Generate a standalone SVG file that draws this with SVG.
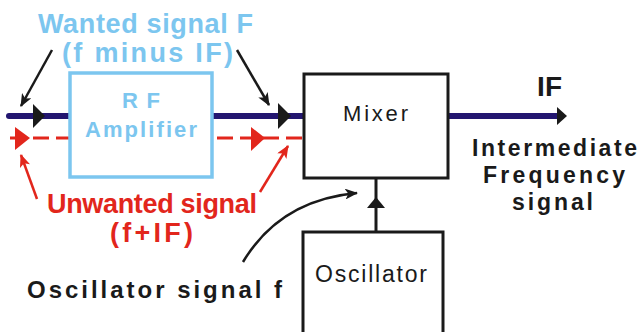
<svg xmlns="http://www.w3.org/2000/svg" width="639" height="332" viewBox="0 0 639 332">
<defs>
<style>
.lbl{font-family:"Liberation Sans",Arial,sans-serif;font-weight:bold}
.node{font-family:"Liberation Sans",Arial,sans-serif}
.blue{fill:#7cc6ef}
.red{fill:#e2261c}
.blk{fill:#1a1a1a}
.navy{stroke:#231670;stroke-width:6;fill:none}
.dash{stroke:#e2261c;stroke-width:3;fill:none;stroke-dasharray:16 7}
.ptr{stroke:#1a1a1a;stroke-width:2.5;fill:none}
.ptrR{stroke:#e2261c;stroke-width:2.5;fill:none}
</style>
<marker id="barbK" viewBox="0 0 12 10" refX="11" refY="5" markerWidth="13" markerHeight="11" markerUnits="userSpaceOnUse" orient="auto">
<path d="M0,0 L12,5 L0,10 L3,5 z" fill="#1a1a1a"/>
</marker>
<marker id="barbR" viewBox="0 0 12 10" refX="11" refY="5" markerWidth="13" markerHeight="11" markerUnits="userSpaceOnUse" orient="auto">
<path d="M0,0 L12,5 L0,10 L3,5 z" fill="#e2261c"/>
</marker>
</defs>
<rect width="639" height="332" fill="#ffffff"/>
<g id="connectors">
<line class="navy" x1="9" y1="116" x2="304" y2="116" stroke-linecap="round"/>
<line class="dash" x1="10" y1="138" x2="308" y2="138"/>
<line class="navy" x1="448" y1="116" x2="558" y2="116"/>
<polygon points="33,104 45,116 33,128" fill="#1a1a1a"/>
<polygon points="278,103 291,116 278,129" fill="#1a1a1a"/>
<polygon points="557,107 567,116 557,125" fill="#1a1a1a"/>
<polygon points="15,127 30,138 15,150" fill="#e2261c"/>
<polygon points="251,127 265,138 251,151" fill="#e2261c"/>
<line x1="376" y1="232" x2="376" y2="178" stroke="#1a1a1a" stroke-width="3"/>
<polygon points="376,197 385,208 367,208" fill="#1a1a1a"/>
<line class="ptr" x1="52" y1="50" x2="21" y2="106" marker-end="url(#barbK)"/>
<line class="ptr" x1="237" y1="50" x2="269" y2="105" marker-end="url(#barbK)"/>
<line class="ptrR" x1="37" y1="199" x2="21" y2="155" marker-end="url(#barbR)"/>
<line class="ptrR" x1="260" y1="192" x2="288" y2="146" marker-end="url(#barbR)"/>
<path class="ptr" d="M243,262 Q280,200 357,193" marker-end="url(#barbK)"/>
</g>
<g id="rf-amplifier">
<rect x="70" y="73" width="142" height="104" fill="#ffffff" stroke="#7cc6ef" stroke-width="3.5"/>
<text class="lbl blue" x="141" y="108" font-size="22" text-anchor="middle" textLength="38" lengthAdjust="spacing">R F</text>
<text class="lbl blue" x="85" y="137" font-size="22" textLength="112" lengthAdjust="spacing">Amplifier</text>
</g>
<g id="mixer">
<rect x="304" y="74" width="144" height="104" fill="#ffffff" stroke="#1a1a1a" stroke-width="3"/>
<text class="node blk" x="343" y="121" font-size="22" textLength="65" lengthAdjust="spacing">Mixer</text>
</g>
<g id="oscillator">
<rect x="303" y="232" width="140" height="115" fill="#ffffff" stroke="#1a1a1a" stroke-width="3"/>
<text class="node blk" x="315" y="282" font-size="23" textLength="112" lengthAdjust="spacing">Oscillator</text>
</g>
<g id="labels">
<text class="lbl blue" x="38" y="33" font-size="27" textLength="215" lengthAdjust="spacing">Wanted signal  F</text>
<text class="lbl blue" x="62" y="62" font-size="27" textLength="171" lengthAdjust="spacing">(f minus IF)</text>
<text class="lbl red" x="47" y="213" font-size="27" textLength="210" lengthAdjust="spacing">Unwanted signal</text>
<text class="lbl red" x="110" y="242" font-size="27" textLength="83" lengthAdjust="spacing">(f+IF)</text>
<text class="lbl blk" x="27" y="298" font-size="24" textLength="255" lengthAdjust="spacing">Oscillator signal  f</text>
<text class="lbl blk" x="537" y="96" font-size="28" textLength="25" lengthAdjust="spacing">IF</text>
<text class="lbl blk" x="472" y="156" font-size="23" textLength="165" lengthAdjust="spacing">Intermediate</text>
<text class="lbl blk" x="483" y="183" font-size="23" textLength="142" lengthAdjust="spacing">Frequency</text>
<text class="lbl blk" x="512" y="210" font-size="23" textLength="81" lengthAdjust="spacing">signal</text>
</g>
</svg>
